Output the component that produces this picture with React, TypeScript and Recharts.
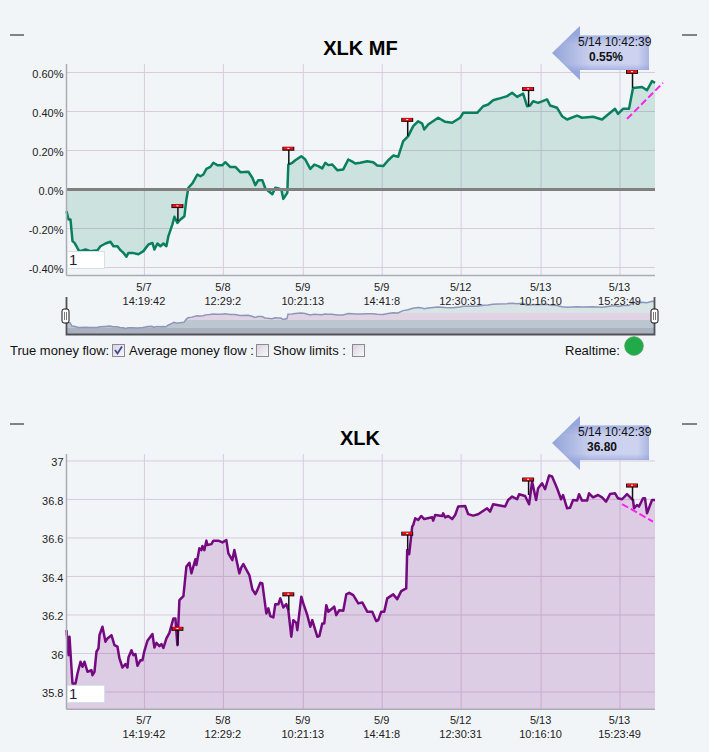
import { Area, CartesianGrid, ComposedChart, ReferenceDot, ReferenceLine, XAxis, YAxis } from "recharts";

const FONT = '"Liberation Sans", Arial, sans-serif';
const BG = "#f2f5f8";

const xTickSamples = [78, 157, 237, 316, 395, 475, 554];
const xTickDates = ["5/7", "5/8", "5/9", "5/9", "5/12", "5/13", "5/13"];
const xTickTimes = ["14:19:42", "12:29:2", "10:21:13", "14:41:8", "12:30:31", "10:16:10", "15:23:49"];

const mfTicks = [0.6, 0.4, 0.2, 0, -0.2, -0.4];
const mfTickLabels = ["0.60%", "0.40%", "0.20%", "0.0%", "-0.20%", "-0.40%"];
const priceTicks = [37, 36.8, 36.6, 36.4, 36.2, 36, 35.8];
const priceTickLabels = ["37", "36.8", "36.6", "36.4", "36.2", "36", "35.8"];

const mfSamples = [
  0, 2, 4, 6, 8, 10, 12, 14, 19, 24, 31, 34, 39, 44, 47, 51, 54, 57, 60, 62, 66, 72, 77, 82, 86, 88, 91, 94, 97, 100,
  102, 106, 108, 111, 114, 118, 120, 122, 126, 131, 134, 137, 140, 144, 147, 151, 156, 159, 164, 169, 174, 182, 186,
  189, 192, 196, 199, 206, 209, 212, 215, 217, 221, 222, 226, 229, 235, 239, 244, 248, 252, 256, 259, 262, 266, 271,
  277, 282, 287, 289, 294, 301, 307, 311, 317, 322, 327, 332, 337, 342, 347, 352, 356, 358, 362, 372, 379, 386, 394,
  397, 411, 417, 422, 427, 432, 441, 446, 451, 457, 461, 464, 467, 472, 481, 484, 491, 496, 501, 511, 516, 527, 536,
  542, 549, 552, 557, 563, 567, 576, 581, 586, 589,
];
const mfValues = [
  -0.111, -0.154, -0.154, -0.265, -0.274, -0.291, -0.311, -0.316, -0.308, -0.316, -0.311, -0.291, -0.277, -0.268,
  -0.291, -0.291, -0.311, -0.325, -0.345, -0.325, -0.325, -0.332, -0.316, -0.282, -0.274, -0.308, -0.277, -0.291,
  -0.277, -0.291, -0.239, -0.179, -0.14, -0.171, -0.154, -0.137, -0.051, 0.009, 0.031, 0.077, 0.068, 0.077, 0.106,
  0.116, 0.137, 0.125, 0.125, 0.14, 0.115, 0.116, 0.089, 0.091, 0.06, 0.022, 0.048, 0.048, 0.005, -0.024, 0.009, 0.005,
  0, -0.048, -0.017, 0.128, 0.137, 0.15, 0.171, 0.154, 0.106, 0.128, 0.12, 0.108, 0.137, 0.125, 0.128, 0.099, 0.103,
  0.154, 0.14, 0.133, 0.137, 0.145, 0.14, 0.123, 0.12, 0.15, 0.174, 0.168, 0.248, 0.274, 0.325, 0.35, 0.338, 0.308,
  0.333, 0.368, 0.347, 0.342, 0.368, 0.393, 0.393, 0.427, 0.436, 0.458, 0.465, 0.479, 0.496, 0.475, 0.492, 0.427, 0.431,
  0.453, 0.444, 0.462, 0.431, 0.419, 0.376, 0.359, 0.379, 0.368, 0.373, 0.359, 0.385, 0.414, 0.388, 0.414, 0.414, 0.521,
  0.526, 0.509, 0.556, 0.547,
];

const priceSamples = [
  0, 2, 3, 6, 9, 11, 14, 16, 18, 21, 25, 26, 28, 30, 32, 33, 36, 39, 41, 45, 48, 51, 53, 56, 59, 61, 62, 65, 67, 69, 71,
  74, 76, 78, 81, 86, 88, 90, 93, 95, 97, 100, 103, 107, 109, 111, 113, 117, 120, 123, 125, 129, 130, 133, 135, 136, 138,
  140, 141, 145, 147, 152, 156, 160, 162, 166, 168, 173, 175, 177, 183, 186, 189, 191, 194, 196, 200, 202, 204, 207,
  209, 212, 214, 217, 220, 222, 225, 227, 230, 231, 235, 237, 241, 244, 246, 251, 253, 256, 258, 260, 262, 268, 270,
  273, 277, 280, 283, 287, 289, 292, 296, 301, 306, 310, 312, 315, 318, 321, 327, 331, 335, 340, 341, 343, 346, 347,
  349, 352, 355, 358, 366, 367, 369, 376, 377, 379, 382, 386, 389, 392, 399, 402, 407, 412, 421, 424, 427, 439, 442,
  446, 451, 453, 459, 463, 466, 470, 472, 476, 479, 483, 486, 491, 495, 497, 501, 504, 507, 511, 513, 516, 521, 523,
  527, 532, 536, 540, 544, 549, 552, 556, 561, 567, 568, 571, 573, 577, 579, 581, 586, 589,
];
const priceValues = [
  36.121, 35.991, 36.087, 35.844, 35.844, 35.896, 35.957, 35.931, 35.957, 35.905, 35.913, 35.887, 35.905, 36.009, 36.026,
  36.095, 36.139, 36.061, 36.078, 36.095, 36.043, 36.035, 35.974, 35.927, 35.945, 35.927, 35.979, 36.017, 35.991, 35.997,
  35.936, 35.965, 35.965, 36.014, 36.066, 36.101, 36.031, 36.055, 36.038, 36.049, 36.029, 36.078, 36.107, 36.182, 36.182,
  36.043, 36.277, 36.298, 36.451, 36.471, 36.416, 36.489, 36.459, 36.546, 36.537, 36.558, 36.537, 36.586, 36.563, 36.568,
  36.586, 36.586, 36.577, 36.589, 36.52, 36.485, 36.537, 36.416, 36.447, 36.464, 36.407, 36.333, 36.308, 36.329, 36.367,
  36.364, 36.208, 36.234, 36.194, 36.187, 36.256, 36.255, 36.286, 36.239, 36.256, 36.225, 36.087, 36.173, 36.159, 36.121,
  36.295, 36.26, 36.199, 36.139, 36.173, 36.087, 36.09, 36.156, 36.156, 36.251, 36.217, 36.243, 36.199, 36.225, 36.222,
  36.307, 36.315, 36.303, 36.286, 36.26, 36.265, 36.217, 36.217, 36.168, 36.173, 36.217, 36.217, 36.286, 36.307, 36.282,
  36.324, 36.338, 36.537, 36.516, 36.659, 36.667, 36.702, 36.693, 36.714, 36.698, 36.707, 36.69, 36.719, 36.714, 36.728,
  36.707, 36.714, 36.698, 36.719, 36.763, 36.766, 36.724, 36.716, 36.723, 36.754, 36.737, 36.775, 36.763, 36.797, 36.815,
  36.801, 36.827, 36.818, 36.775, 36.893, 36.797, 36.858, 36.884, 36.853, 36.924, 36.919, 36.858, 36.801, 36.823, 36.754,
  36.757, 36.797, 36.794, 36.827, 36.794, 36.794, 36.832, 36.811, 36.823, 36.811, 36.789, 36.828, 36.832, 36.806, 36.801,
  36.828, 36.797, 36.754, 36.771, 36.763, 36.806, 36.806, 36.728, 36.797, 36.797,
];

const mfFlagSamples = [111, 222, 341, 462, 566];
const mfFlagTops = [-0.085, 0.209, 0.357, 0.515, 0.603];
const mfFlagBases = [-0.162, 0.128, 0.274, 0.427, 0.521];
const priceFlagSamples = [111, 222, 341, 462, 566];
const priceFlagTops = [36.128, 36.307, 36.622, 36.903, 36.872];
const priceFlagBases = [36.043, 36.225, 36.537, 36.823, 36.794];

const mfTrendSamples = [561, 597];
const mfTrendValues = [0.362, 0.547];
const priceTrendSamples = [556, 587];
const priceTrendValues = [36.776, 36.685];

function FlagMark(props: any) {
  const { cx, cy } = props;
  return (
    <g>
      <rect x={cx - 6} y={cy - 2} width={12} height={4} fill="#111" />
      <rect x={cx - 5} y={cy - 1.8} width={10} height={2.8} fill="#f20a14" />
      <rect x={cx - 1} y={cy - 0.8} width={2} height={1} fill="#fff" />
    </g>
  );
}

function YTick(props: any) {
  const { x, y, payload, ticks, labels } = props;
  return (
    <text x={x} y={y + 5.5} textAnchor="end" fontFamily={FONT} fontSize={11} fill="#222">
      {labels[ticks.indexOf(payload.value)]}
    </text>
  );
}

function XTick(props: any) {
  const { x, y, payload } = props;
  const i = xTickSamples.indexOf(payload.value);
  return (
    <text textAnchor="middle" fontFamily={FONT} fontSize={11} fill="#222">
      <tspan x={x - 0.5} y={y + 7}>{xTickDates[i]}</tspan>
      <tspan x={x - 0.5} y={y + 21}>{xTickTimes[i]}</tspan>
    </text>
  );
}

function PriceChart(props: any) {
  const { top, height, samples, values, domain, ticks, labels, color, fillOpacity, flags, trend, zero } = props;
  const data = samples.map((s: number, i: number) => ({ sample: s, value: values[i] }));
  return (
    <div style={{ position: "absolute", left: 0, top }}>
      <ComposedChart width={709} height={height} data={data} margin={{ top: 64, right: 54, bottom: 0, left: 0 }}>
        <CartesianGrid stroke="#d9cae0" strokeWidth={1} horizontalValues={ticks} verticalValues={xTickSamples} />
        <XAxis
          type="number"
          dataKey="sample"
          domain={[0, 589]}
          ticks={xTickSamples}
          interval={0}
          height={34.5}
          tickLine={false}
          stroke="#a9acb4"
          strokeWidth={1.5}
          tick={<XTick />}
        />
        <YAxis
          type="number"
          domain={domain}
          ticks={ticks}
          interval={0}
          width={66.5}
          tickLine={false}
          tickMargin={0}
          tickSize={3}
          allowDataOverflow
          stroke="#a9acb4"
          strokeWidth={1.5}
          tick={<YTick ticks={ticks} labels={labels} />}
        />
        <Area
          type="linear"
          dataKey="value"
          stroke={color}
          strokeWidth={2.5}
          strokeLinejoin="round"
          fill={color}
          fillOpacity={fillOpacity}
          dot={false}
          activeDot={false}
          isAnimationActive={false}
        />
        {zero && <ReferenceLine y={0} stroke="#808080" strokeWidth={3} />}
        {flags.samples.map((s: number, i: number) => (
          <ReferenceLine
            key={"stem" + i}
            segment={[
              { x: s + 0.5, y: flags.tops[i] },
              { x: s + 0.5, y: flags.bases[i] },
            ]}
            stroke="#111"
            strokeWidth={1.5}
            ifOverflow="visible"
          />
        ))}
        {flags.samples.map((s: number, i: number) => (
          <ReferenceDot key={"flag" + i} x={s} y={flags.tops[i]} ifOverflow="visible" shape={<FlagMark />} />
        ))}
        <ReferenceLine
          segment={[
            { x: trend.samples[0], y: trend.values[0] },
            { x: trend.samples[1], y: trend.values[1] },
          ]}
          stroke="#ff20ee"
          strokeWidth={2}
          strokeDasharray="7 3"
          ifOverflow="visible"
        />
      </ComposedChart>
    </div>
  );
}

function Navigator() {
  const data = mfSamples.map((s, i) => ({ sample: s, value: mfValues[i] }));
  return (
    <div style={{ position: "absolute", left: 66, top: 297 }}>
      <ComposedChart width={589} height={38} data={data} margin={{ top: 0, right: 0, bottom: 0, left: 0 }}>
        <defs>
          <linearGradient id="navBands" gradientUnits="userSpaceOnUse" x1="0" y1="0" x2="0" y2="38">
            <stop offset="0.43" stopColor="#d8e4e6" />
            <stop offset="0.43" stopColor="#e0d4e4" />
            <stop offset="0.61" stopColor="#e0d4e4" />
            <stop offset="0.61" stopColor="#bcc6d0" />
            <stop offset="0.81" stopColor="#bcc6d0" />
            <stop offset="0.81" stopColor="#aab2c0" />
            <stop offset="1" stopColor="#aab2c0" />
          </linearGradient>
        </defs>
        <XAxis type="number" dataKey="sample" domain={[0, 589]} hide />
        <YAxis type="number" domain={[-0.563, 0.7]} hide />
        <Area
          type="linear"
          dataKey="value"
          baseValue={-0.563}
          stroke="#8d97b8"
          strokeWidth={1.5}
          fill="url(#navBands)"
          fillOpacity={1}
          dot={false}
          activeDot={false}
          isAnimationActive={false}
        />
      </ComposedChart>
    </div>
  );
}

function Badge({ dy, value, valueX }: { dy: number; value: string; valueX: number }) {
  return (
    <g transform={`translate(0 ${dy})`}>
      <polygon points="552,53 580,26 580,35.5 649,35.5 649,70 580,70 580,80" fill="url(#badgeH)" />
      <polygon points="552,53 580,26 580,35.5 649,35.5 649,70 580,70 580,80" fill="url(#badgeV)" />
      <text x={578} y={45.5} fontFamily={FONT} fontSize={12} fill="#111">5/14 10:42:39</text>
      <text x={valueX} y={60.5} textAnchor="middle" fontFamily={FONT} fontSize={12} fontWeight="bold" fill="#111">
        {value}
      </text>
    </g>
  );
}

function Handle({ x }: { x: number }) {
  return (
    <g>
      <rect x={x} y={309} width={7} height={14} rx={2} fill="#fff" stroke="#111" strokeWidth={1} />
      <line x1={x + 2.5} x2={x + 2.5} y1={312} y2={320} stroke="#777" />
      <line x1={x + 4.5} x2={x + 4.5} y1={312} y2={320} stroke="#777" />
    </g>
  );
}

function CheckBox({ x, y, checked }: { x: number; y: number; checked?: boolean }) {
  return (
    <g>
      <rect x={x + 0.5} y={y + 0.5} width={12} height={12} fill="url(#boxFill)" stroke="#8a8a90" />
      {checked && <path d={`M${x + 3} ${y + 6} l2.5 3.5 l4.5 -7`} fill="none" stroke="#3a4a94" strokeWidth={1.8} />}
    </g>
  );
}

function Overlay() {
  return (
    <svg width={709} height={752} style={{ position: "absolute", left: 0, top: 0, pointerEvents: "none" }}>
      <defs>
        <linearGradient id="badgeH" x1="0" y1="0" x2="1" y2="0">
          <stop offset="0" stopColor="#93a3d8" />
          <stop offset="0.4" stopColor="#c9d0ee" />
          <stop offset="0.88" stopColor="#cdd3ef" />
          <stop offset="1" stopColor="#aab6e2" />
        </linearGradient>
        <linearGradient id="badgeV" x1="0" y1="0" x2="0" y2="1">
          <stop offset="0.15" stopColor="#8a9cd8" stopOpacity={0.7} />
          <stop offset="0.35" stopColor="#8a9cd8" stopOpacity={0} />
          <stop offset="0.7" stopColor="#8a9cd8" stopOpacity={0} />
          <stop offset="0.85" stopColor="#8a9cd8" stopOpacity={0.7} />
        </linearGradient>
        <linearGradient id="boxFill" x1="0" y1="0" x2="1" y2="1">
          <stop offset="0" stopColor="#dcd0e0" />
          <stop offset="1" stopColor="#fbfafc" />
        </linearGradient>
      </defs>

      <line x1={10} x2={24} y1={35} y2={35} stroke="#111" />
      <line x1={682} x2={697} y1={35} y2={35} stroke="#111" />
      <line x1={10} x2={24} y1={424} y2={424} stroke="#111" />
      <line x1={682} x2={697} y1={424} y2={424} stroke="#111" />

      <text x={360.5} y={55} textAnchor="middle" fontFamily={FONT} fontSize={20} fontWeight="bold" fill="#000">XLK MF</text>
      <text x={360} y={445} textAnchor="middle" fontFamily={FONT} fontSize={20} fontWeight="bold" fill="#000">XLK</text>

      <Badge dy={0} value="0.55%" valueX={606} />
      <Badge dy={390} value="36.80" valueX={602} />

      <rect x={67.5} y={251.5} width={37} height={17} fill="#fff" stroke="#d3e2e8" />
      <text x={69} y={265} fontFamily={FONT} fontSize={15} fill="#223">1</text>
      <rect x={67.5} y={685.5} width={37} height={17} fill="#fff" stroke="#d3e2e8" />
      <text x={69} y={699} fontFamily={FONT} fontSize={15} fill="#223">1</text>

      <path d="M66.5 297 V334.5 H654.5 V297" fill="none" stroke="#505258" strokeWidth={1.8} />
      <Handle x={62} />
      <Handle x={651} />

      <text x={10} y={355} fontFamily={FONT} fontSize={13} fill="#111">True money flow:</text>
      <CheckBox x={112} y={344} checked />
      <text x={129} y={355} fontFamily={FONT} fontSize={13} fill="#111">Average money flow :</text>
      <CheckBox x={256} y={344} />
      <text x={273} y={355} fontFamily={FONT} fontSize={13} fill="#111">Show limits :</text>
      <CheckBox x={352} y={344} />
      <text x={565} y={355} fontFamily={FONT} fontSize={13} fill="#111">Realtime:</text>
      <circle cx={634} cy={346} r={9.3} fill="#20ab48" stroke="#4a9c60" strokeWidth={0.8} />
    </svg>
  );
}

export default function App() {
  return (
    <div style={{ position: "absolute", left: 0, top: 0, width: 709, height: 752, background: BG, overflow: "hidden" }}>
      <Navigator />
      <PriceChart
        top={0}
        height={310}
        samples={mfSamples}
        values={mfValues}
        domain={[-0.441, 0.6436]}
        ticks={mfTicks}
        labels={mfTickLabels}
        color="#08805f"
        fillOpacity={0.16}
        flags={{ samples: mfFlagSamples, tops: mfFlagTops, bases: mfFlagBases }}
        trend={{ samples: mfTrendSamples, values: mfTrendValues }}
        zero
      />
      <PriceChart
        top={390}
        height={353.8}
        samples={priceSamples}
        values={priceValues}
        domain={[35.71, 37.036]}
        ticks={priceTicks}
        labels={priceTickLabels}
        color="#750a80"
        fillOpacity={0.17}
        flags={{ samples: priceFlagSamples, tops: priceFlagTops, bases: priceFlagBases }}
        trend={{ samples: priceTrendSamples, values: priceTrendValues }}
      />
      <Overlay />
    </div>
  );
}
